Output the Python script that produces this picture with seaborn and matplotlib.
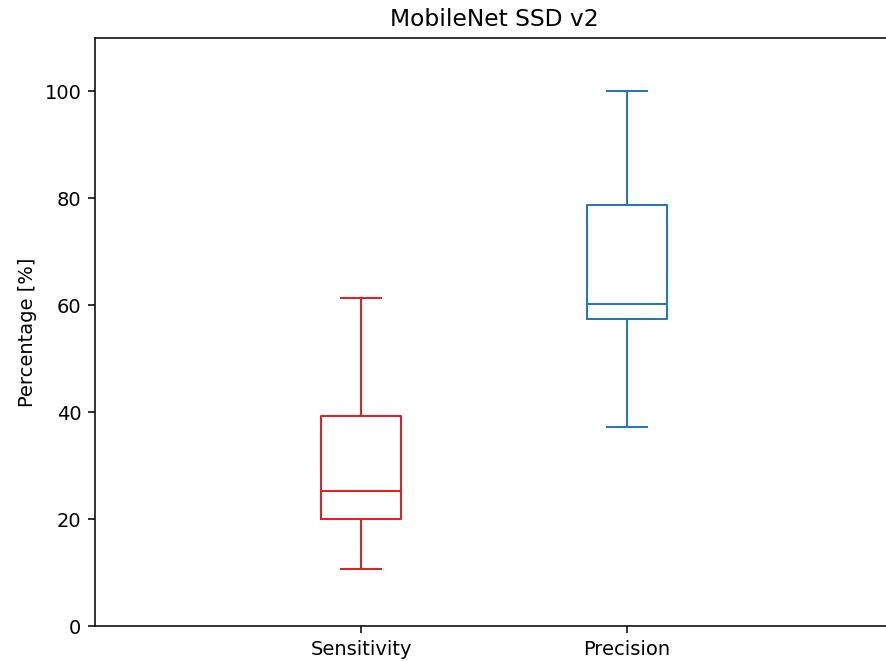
import numpy as np
import pandas as pd
import matplotlib
matplotlib.use("Agg")
import matplotlib.pyplot as plt
import seaborn as sns

# five-number summary per metric (min, Q1, median, Q3, max)
metrics = ["Sensitivity", "Precision"]
sensitivity = [10.7, 20.0, 25.3, 39.3, 61.4]
precision = [37.3, 57.5, 60.3, 78.7, 100.0]
colors = {"Sensitivity": "#e41a1c", "Precision": "#1f77b4"}

df = pd.DataFrame({
    "metric": ["Sensitivity"] * len(sensitivity) + ["Precision"] * len(precision),
    "value": sensitivity + precision,
})

dpi = 140
fig = plt.figure(figsize=(886 / dpi, 661 / dpi), dpi=dpi)
ax = fig.add_axes([95 / 886, 1 - 626 / 661, (893 - 95) / 886, (626 - 38) / 661])

sns.boxplot(data=df, x="metric", y="value", hue="metric", order=metrics,
            hue_order=metrics, palette=colors, fill=False, width=0.3,
            linewidth=1.0, legend=False, ax=ax)

ax.set_xlim(-1, 2)
ax.set_ylim(0, 110)
ax.set_yticks([0, 20, 40, 60, 80, 100])
ax.set_xlabel("")
ax.set_ylabel("Percentage [%]")
ax.set_title("MobileNet SSD v2")

fig.savefig("out.png", dpi=dpi)
